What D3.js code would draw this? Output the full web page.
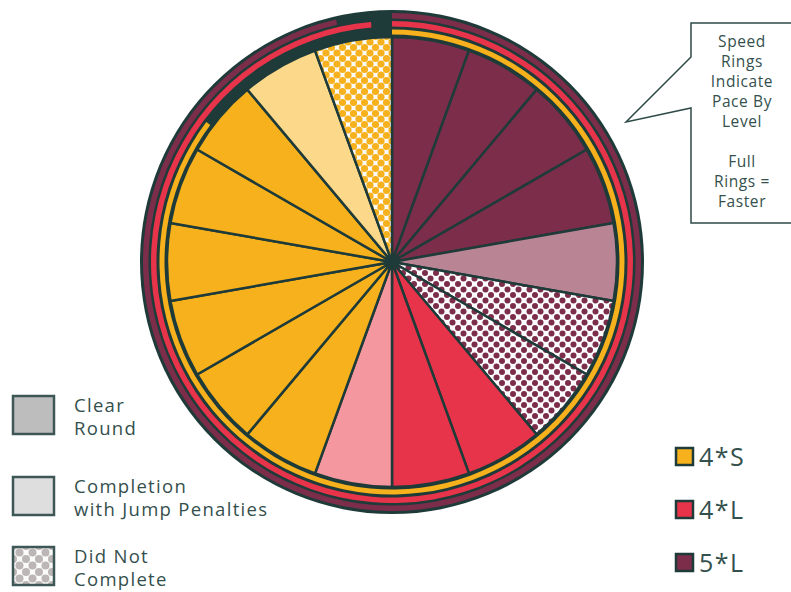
<!DOCTYPE html>
<html>
<head>
<meta charset="utf-8">
<script src="https://cdn.jsdelivr.net/npm/d3@7"></script>
<style>
  body { margin: 0; background: #fff; }
  text { font-family: "Open Sans", sans-serif; fill: #34504d; }
</style>
</head>
<body>
<div id="chart"></div>
<script>
// one slice per round, grouped by level and outcome
var levels = ["5*L", "4*L", "4*S"];
var clearRounds = [4, 2, 6];
var jumpPenalties = [1, 1, 1];
var didNotComplete = [2, 0, 1];
// speed rings: degrees of the full circle covered, per level
var ringDegrees = [347, 355, 307];

var legendLines = [["Clear", "Round"], ["Completion", "with Jump Penalties"], ["Did Not", "Complete"]];
var calloutLines = ["Speed", "Rings", "Indicate", "Pace By", "Level", "", "Full", "Rings =", "Faster"];

var solid = { "5*L": "#7b2d4a", "4*L": "#e8344a", "4*S": "#f6b11c" };
var light = { "5*L": "#b98493", "4*L": "#f4979e", "4*S": "#fcd88b" };
var dark = "#1e3b39";

var width = 791, height = 592;
var cx = 392, cy = 262, pieR = 225, outerR = 252;

var slices = [];
levels.forEach(function (lv, i) {
    d3.range(clearRounds[i]).forEach(function () { slices.push({ level: lv, outcome: 0 }); });
    d3.range(jumpPenalties[i]).forEach(function () { slices.push({ level: lv, outcome: 1 }); });
    d3.range(didNotComplete[i]).forEach(function () { slices.push({ level: lv, outcome: 2 }); });
});

var svg = d3.select("#chart").append("svg")
    .attr("width", width)
    .attr("height", height);

var defs = svg.append("defs");

function dotPattern(id, color, size, r) {
    var p = defs.append("pattern")
        .attr("id", id)
        .attr("patternUnits", "userSpaceOnUse")
        .attr("width", size).attr("height", size);
    p.append("rect").attr("width", size).attr("height", size).attr("fill", "#fbfbfb");
    [[0, 0], [size, 0], [0, size], [size, size], [size / 2, size / 2]].forEach(function (c) {
        p.append("circle").attr("cx", c[0]).attr("cy", c[1]).attr("r", r).attr("fill", color);
    });
}
dotPattern("dnc-5L", solid["5*L"], 11, 3.0);
dotPattern("dnc-4L", solid["4*L"], 11, 3.2);
dotPattern("dnc-4S", solid["4*S"], 11, 3.6);
dotPattern("dnc-legend", "#bdb6b6", 13, 4);

function fillFor(d) {
    if (d.outcome === 0) return solid[d.level];
    if (d.outcome === 1) return light[d.level];
    return "url(#dnc-" + d.level.replace("*", "") + ")";
}

var g = svg.append("g").attr("transform", "translate(" + cx + "," + cy + ")");

// ring background
g.append("circle").attr("r", outerR).attr("fill", dark);

// speed rings, inner to outer: 4*S, 4*L, 5*L
var ringBands = { "4*S": [227.5, 232.5], "4*L": [235.5, 241], "5*L": [243.5, 249] };
levels.forEach(function (lv, i) {
    var arc = d3.arc()
        .innerRadius(ringBands[lv][0])
        .outerRadius(ringBands[lv][1])
        .startAngle(0)
        .endAngle(ringDegrees[i] * Math.PI / 180);
    g.append("path").attr("d", arc()).attr("fill", solid[lv]);
});

var pie = d3.pie().value(function () { return 1; }).sort(null);
var arcGen = d3.arc().innerRadius(0).outerRadius(pieR);

g.selectAll("path.slice")
    .data(pie(slices))
    .enter()
    .append("path")
    .attr("class", "slice")
    .attr("d", arcGen)
    .attr("fill", function (d) { return fillFor(d.data); })
    .attr("stroke", dark)
    .attr("stroke-width", 2.5)
    .attr("stroke-linejoin", "round");

g.append("circle").attr("r", 7).attr("fill", dark);

// outcome legend
var legendFills = ["#bdbdbd", "#dedede", "url(#dnc-legend)"];
var legendTop = [396, 477, 547];
legendFills.forEach(function (f, i) {
    svg.append("rect")
        .attr("x", 13).attr("y", legendTop[i])
        .attr("width", 41).attr("height", 38)
        .attr("fill", f)
        .attr("stroke", "#3c5755").attr("stroke-width", 2.5);
    legendLines[i].forEach(function (line, j) {
        svg.append("text")
            .attr("x", 74).attr("y", legendTop[i] + 16 + j * 23)
            .attr("font-size", 18.5)
            .attr("letter-spacing", 1.3)
            .text(line);
    });
});

// level legend
var levelOrder = ["4*S", "4*L", "5*L"];
levelOrder.forEach(function (lv, i) {
    var y = 448 + i * 53;
    svg.append("rect")
        .attr("x", 676).attr("y", y)
        .attr("width", 17).attr("height", 17)
        .attr("fill", solid[lv])
        .attr("stroke", dark).attr("stroke-width", 2.5);
    svg.append("text")
        .attr("x", 699).attr("y", y + 18)
        .attr("font-size", 25)
        .attr("letter-spacing", 1.5)
        .text(lv);
});

// callout box
svg.append("path")
    .attr("d", "M691,23 L796,23 L796,223 L691,223 L691,108 L626,122 L691,57 Z")
    .attr("fill", "#fff")
    .attr("stroke", "#2f4b48")
    .attr("stroke-width", 1.5);

calloutLines.forEach(function (line, i) {
    svg.append("text")
        .attr("x", 742).attr("y", 47 + i * 20)
        .attr("text-anchor", "middle")
        .attr("font-size", 15.5)
        .attr("letter-spacing", 0.6)
        .text(line);
});
</script>
</body>
</html>
